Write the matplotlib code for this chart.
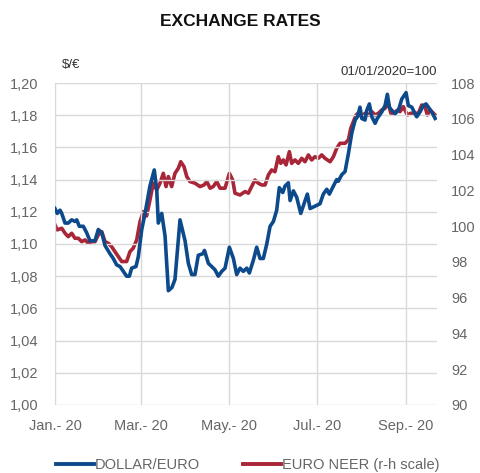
import matplotlib
matplotlib.use("Agg")
import matplotlib.pyplot as plt
from matplotlib.ticker import FuncFormatter
from matplotlib.lines import Line2D
import pandas as pd

plt.rcParams['font.family'] = ['Liberation Sans', 'DejaVu Sans']

# Dollar/euro rate (left scale), x = days since 01/01/2020
usd_days = [0, 1.6, 3.5, 4.7, 7, 9.2, 11.6, 13.9, 15.1, 16.9, 19.7, 22, 24.3, 27.8,
            30.1, 32.5, 34.8, 38.2, 40.5, 42.9, 45.2, 47.5, 49.8, 51.7, 53.3, 56.3,
            57.9, 60.3, 62.6, 66, 69, 70.7, 71.8, 74.2, 76.5, 78.8, 81.3, 83.4, 86.9,
            90.4, 92.7, 95, 97.3, 99.6, 102.9, 103.9, 106.6, 108.9, 111.2, 113.5,
            115.9, 118.2, 121.2, 124, 126.3, 128.6, 130.9, 133.3, 135.1, 137.9, 140.2,
            142.5, 144.8, 147.2, 149.5, 151.8, 154.1, 155.9, 158.3, 159.9, 162.2,
            163.4, 165.7, 168, 170.8, 173.1, 175.4, 177.3, 179.6, 181.9, 184.2, 186.5,
            188.9, 190.7, 193.5, 195.8, 196.9, 199.3, 201.6, 203.9, 206.3, 208.6,
            210.2, 212, 213.2, 215.5, 216.7, 218.5, 220.2, 222.5, 224, 227.1, 229.4,
            231, 232.4, 234.1, 236.4, 238.7, 241, 244, 245.6, 248, 251.4, 253.7, 256,
            257.9, 259.5, 261.9, 264.2]
usd_vals = [1.122, 1.119, 1.121, 1.119, 1.113, 1.113, 1.115, 1.114, 1.115, 1.111,
            1.111, 1.107, 1.102, 1.102, 1.109, 1.107, 1.099, 1.094, 1.091, 1.087,
            1.086, 1.083, 1.080, 1.080, 1.085, 1.086, 1.092, 1.109, 1.119, 1.136,
            1.146, 1.134, 1.113, 1.119, 1.105, 1.071, 1.073, 1.078, 1.115, 1.102,
            1.088, 1.081, 1.081, 1.093, 1.094, 1.096, 1.088, 1.086, 1.084, 1.080,
            1.083, 1.085, 1.098, 1.091, 1.081, 1.085, 1.083, 1.085, 1.082, 1.090,
            1.098, 1.091, 1.091, 1.100, 1.111, 1.114, 1.121, 1.135, 1.132, 1.136,
            1.138, 1.127, 1.133, 1.129, 1.119, 1.125, 1.131, 1.122, 1.123, 1.124,
            1.125, 1.131, 1.134, 1.131, 1.136, 1.140, 1.139, 1.143, 1.145, 1.156,
            1.169, 1.177, 1.179, 1.185, 1.178, 1.177, 1.183, 1.187, 1.179, 1.175,
            1.178, 1.182, 1.186, 1.193, 1.185, 1.183, 1.181, 1.183, 1.190, 1.194,
            1.186, 1.185, 1.179, 1.182, 1.186, 1.187, 1.185, 1.182, 1.178]

# Euro NEER (right scale), 01/01/2020 = 100
neer_days = [0, 1.6, 4.7, 7, 9.2, 11.6, 13.9, 16.2, 18.6, 20.9, 23.1, 25.5, 27.8,
             30.1, 32.5, 34.8, 37.1, 39.4, 41.7, 44, 46.4, 49.8, 52.1, 54.4, 56.8,
             59.1, 61.4, 63.7, 66, 68.3, 70.7, 73, 75.3, 77.2, 78.8, 81.1, 83.4,
             85.7, 87.4, 89.7, 91.6, 93.8, 97.3, 100.8, 103.6, 105.5, 107.8, 110,
             112.4, 114.7, 118.2, 121.2, 123.5, 125.1, 128.6, 132.1, 134.4, 136.7,
             139, 141.3, 143.7, 146, 148.3, 150.6, 152.9, 155.2, 156.9, 158.7, 160.6,
             162.9, 164.5, 166.8, 169.1, 171.5, 173.8, 176.1, 178.4, 180.7, 183,
             185.4, 187.7, 191.2, 193.5, 195.8, 198.1, 201.6, 203.9, 205.6, 207.4,
             209.2, 210.8, 213.2, 215.5, 217.8, 220.2, 222.5, 224.8, 227.1, 229.4,
             231.7, 233.4, 235.7, 238, 239.8, 242.1, 244.9, 247.3, 250.3, 252.6,
             254.9, 257.2, 258.8, 260.7, 263, 264.2]
neer_vals = [100.07, 99.79, 99.88, 99.60, 99.41, 99.60, 99.32, 99.32, 99.13, 99.23,
             99.04, 99.13, 99.13, 99.51, 99.69, 99.13, 99.04, 98.85, 98.57, 98.30,
             98.02, 98.02, 98.57, 98.77, 99.23, 100.25, 100.81, 100.57, 101.46,
             102.40, 102.02, 102.40, 102.95, 102.21, 102.77, 102.21, 102.95, 103.23,
             103.60, 103.32, 102.77, 102.49, 102.40, 102.21, 102.30, 102.49, 102.12,
             102.21, 102.49, 102.12, 102.12, 102.95, 102.58, 101.84, 101.74, 101.93,
             101.84, 102.21, 102.58, 102.40, 102.30, 102.30, 102.86, 103.14, 103.04,
             103.88, 103.51, 103.70, 103.42, 104.16, 103.51, 103.70, 103.51, 103.79,
             103.60, 103.98, 103.70, 103.88, 103.79, 103.98, 103.79, 103.60, 103.88,
             104.35, 104.63, 104.63, 104.82, 105.47, 105.84, 106.21, 106.31, 106.12,
             106.31, 106.21, 106.40, 106.21, 106.31, 106.49, 106.59, 106.87, 106.31,
             106.31, 106.49, 106.40, 106.68, 106.21, 106.31, 106.31, 106.31, 106.77,
             106.68, 106.21, 106.49, 106.31, 106.21]

month_ticks = ['2020-01-01', '2020-03-01', '2020-05-01', '2020-07-01', '2020-09-01']
month_labels = ['Jan.- 20', 'Mar.- 20', 'May.- 20', 'Jul.- 20', 'Sep.- 20']

BLUE = '#0c4a8c'
RED = '#a82637'
GREY = '#666666'

start = pd.Timestamp('2020-01-01')
usd_x = start + pd.to_timedelta(usd_days, unit='D')
neer_x = start + pd.to_timedelta(neer_days, unit='D')

fig = plt.figure(figsize=(4.81, 4.73), dpi=100)
ax = fig.add_axes([0.1143, 0.1438, 0.7942, 0.6807])
ax2 = ax.twinx()

ax.plot(usd_x, usd_vals, color=BLUE, lw=2.6, zorder=3)
ax2.plot(neer_x, neer_vals, color=RED, lw=2.6, zorder=2)
ax.set_zorder(ax2.get_zorder() + 1)
ax.patch.set_visible(False)

ax.set_xlim(start, start + pd.Timedelta(days=265.5))
ax.set_ylim(1.00, 1.20)
ax.set_yticks([1.00 + 0.02 * i for i in range(11)])
ax.yaxis.set_major_formatter(FuncFormatter(lambda v, p: '{:.2f}'.format(v).replace('.', ',')))
ax2.set_ylim(90, 108)
ax2.set_yticks(range(90, 109, 2))

ax.set_xticks(pd.to_datetime(month_ticks))
ax.set_xticklabels(month_labels)

ax.grid(True, color='#d9d9d9', lw=1)
for a in (ax, ax2):
    for s in a.spines.values():
        s.set_visible(False)
    a.tick_params(length=0, labelsize=10.5, labelcolor=GREY)
ax.tick_params(axis='x', pad=10)
ax.tick_params(axis='y', pad=12)
ax2.tick_params(axis='y', pad=10)

fig.text(0.5, 0.955, 'EXCHANGE RATES', ha='center', va='center',
         fontsize=12.5, fontweight='bold', color='#111111')
fig.text(0.128, 0.862, '$/€', ha='left', va='center', fontsize=9.5, color='#333333')
fig.text(0.908, 0.848, '01/01/2020=100', ha='right', va='center', fontsize=9.5, color='#333333')

handles = [Line2D([], [], color=BLUE, lw=2.8), Line2D([], [], color=RED, lw=2.8)]
fig.legend(handles, ['DOLLAR/EURO', 'EURO NEER (r-h scale)'], loc='center',
           bbox_to_anchor=(0.515, 0.016), ncol=2, frameon=False, fontsize=10.5,
           handlelength=2.6, handletextpad=0.05, columnspacing=3.0, labelcolor=GREY)

fig.savefig('out.png', dpi=100)
